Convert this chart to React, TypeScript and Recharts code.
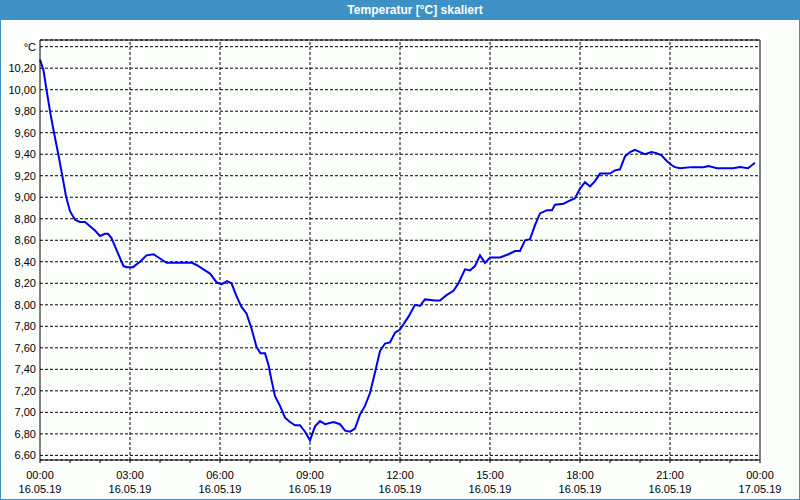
import React from "react";
import {
  LineChart,
  Line,
  XAxis,
  YAxis,
  CartesianGrid,
  ReferenceLine,
} from "recharts";

// sample times (minutes since 16.05.19 00:00) and temperatures
const minutes = [
  0, 7, 13, 20, 28, 37, 45, 52, 60, 70, 80, 90, 100, 110, 120, 130, 136, 143,
  153, 167, 174, 186, 200, 213, 227, 237, 253, 270, 290, 304, 313, 327, 340,
  353, 363, 374, 383, 393, 403, 413, 423, 433, 441, 450, 457, 463, 470, 480,
  490, 500, 510, 520, 530, 540, 550, 560, 570, 587, 600, 610, 620, 630, 640,
  650, 660, 670, 680, 690, 700, 710, 720, 737, 750, 760, 770, 790, 800, 813,
  827, 837, 850, 860, 870, 880, 890, 900, 920, 937, 950, 960, 970, 980, 990,
  1000, 1014, 1024, 1030, 1047, 1060, 1070, 1080, 1090, 1100, 1110, 1120, 1140,
  1150, 1160, 1170, 1180, 1190, 1200, 1210, 1223, 1233, 1243, 1253, 1263, 1270,
  1280, 1303, 1327, 1337, 1354, 1386, 1400, 1416, 1430,
];
const temps = [
  10.28, 10.18, 10.0, 9.8, 9.6, 9.39, 9.19, 9.01, 8.87, 8.79, 8.77, 8.77, 8.73,
  8.69, 8.64, 8.66, 8.66, 8.62, 8.51, 8.36, 8.35, 8.35, 8.4, 8.46, 8.47, 8.44,
  8.39, 8.39, 8.39, 8.39, 8.37, 8.33, 8.29, 8.21, 8.19, 8.22, 8.2, 8.08, 7.98,
  7.92, 7.78, 7.61, 7.55, 7.55, 7.44, 7.3, 7.15, 7.06, 6.95, 6.91, 6.88, 6.88,
  6.82, 6.74, 6.87, 6.92, 6.89, 6.91, 6.89, 6.83, 6.82, 6.85, 6.98, 7.06, 7.18,
  7.37, 7.57, 7.64, 7.65, 7.74, 7.77, 7.89, 8.0, 7.99, 8.05, 8.04, 8.04, 8.09,
  8.13, 8.2, 8.33, 8.32, 8.36, 8.46, 8.39, 8.44, 8.44, 8.47, 8.5, 8.5, 8.6,
  8.61, 8.74, 8.85, 8.88, 8.88, 8.93, 8.94, 8.97, 8.99, 9.08, 9.14, 9.1, 9.15,
  9.22, 9.22, 9.25, 9.26, 9.38, 9.42, 9.44, 9.42, 9.4, 9.42, 9.41, 9.39, 9.34,
  9.3, 9.28, 9.27, 9.28, 9.28, 9.29, 9.27, 9.27, 9.28, 9.27, 9.32,
];

const hourTicks = [
  0, 60, 120, 180, 240, 300, 360, 420, 480, 540, 600, 660, 720, 780, 840, 900,
  960, 1020, 1080, 1140, 1200, 1260, 1320, 1380, 1440,
];
const majorTicks = [0, 180, 360, 540, 720, 900, 1080, 1260, 1440];
const yTicks = [
  6.6, 6.8, 7.0, 7.2, 7.4, 7.6, 7.8, 8.0, 8.2, 8.4, 8.6, 8.8, 9.0, 9.2, 9.4,
  9.6, 9.8, 10.0, 10.2, 10.4,
];
const yMin = 6.557;
const yMax = 10.462;

const data = minutes.map((m, i) => ({ m, t: temps[i] }));

const BLUE = "#3d91c5";

function XTick(props: any) {
  const { x, y, payload } = props;
  const v = payload.value;
  if (v % 180 !== 0) return <g />;
  const h = Math.floor(v / 60) % 24;
  const time = `${String(h).padStart(2, "0")}:00`;
  const day = v >= 1440 ? "17.05.19" : "16.05.19";
  return (
    <g>
      <text x={x} y={y + 16} textAnchor="middle" fontSize={11} fill="#000">
        {time}
      </text>
      <text x={x} y={y + 30} textAnchor="middle" fontSize={11} fill="#000">
        {day}
      </text>
    </g>
  );
}

const fmtY = (v: number) =>
  v > 10.3 ? "°C" : v.toFixed(2).replace(".", ",");

export default function App() {
  return (
    <div
      style={{
        position: "absolute",
        left: 0,
        top: 0,
        width: 800,
        height: 500,
        background: "#fcfefc",
        fontFamily: "'Liberation Sans', Arial, sans-serif",
      }}
    >
      <div style={{ position: "absolute", left: 0, top: 0 }}>
        <LineChart
          width={800}
          height={500}
          data={data}
          margin={{ top: 40, right: 40, left: 0, bottom: 0 }}
        >
          <CartesianGrid
            vertical={false}
            stroke="#000"
            strokeDasharray="3 2"
          />
          {majorTicks.slice(1, -1).map((t) => (
            <ReferenceLine
              key={t}
              x={t}
              stroke="#000"
              strokeDasharray="3 2"
            />
          ))}
          <ReferenceLine x={1440} stroke="#000" />
          <ReferenceLine y={yMax} stroke="#000" />
          <XAxis
            dataKey="m"
            type="number"
            domain={[0, 1440]}
            ticks={hourTicks}
            interval={0}
            height={40}
            tickSize={3}
            tickMargin={0}
            tickLine={{ stroke: "#000" }}
            axisLine={{ stroke: "#000" }}
            tick={<XTick />}
          />
          <YAxis
            type="number"
            domain={[yMin, yMax]}
            allowDataOverflow
            ticks={yTicks}
            interval={0}
            width={40}
            tickLine={false}
            tickSize={0}
            tickMargin={4}
            axisLine={{ stroke: "#000" }}
            tick={{ fill: "#000", fontSize: 11 }}
            tickFormatter={fmtY}
          />
          <Line
            type="linear"
            dataKey="t"
            stroke="#0000ee"
            strokeWidth={2}
            dot={false}
            isAnimationActive={false}
          />
        </LineChart>
      </div>
      <div
        style={{
          position: "absolute",
          left: 0,
          top: 0,
          width: 800,
          height: 20,
          background: BLUE,
          color: "#fff",
          fontWeight: "bold",
          fontSize: 12,
          lineHeight: "20px",
          textAlign: "center",
          paddingLeft: 30,
          boxSizing: "border-box",
        }}
      >
        Temperatur [°C] skaliert
      </div>
      <div
        style={{
          position: "absolute",
          left: 0,
          top: 0,
          width: 800,
          height: 500,
          border: `1px solid ${BLUE}`,
          boxSizing: "border-box",
          pointerEvents: "none",
        }}
      />
    </div>
  );
}
